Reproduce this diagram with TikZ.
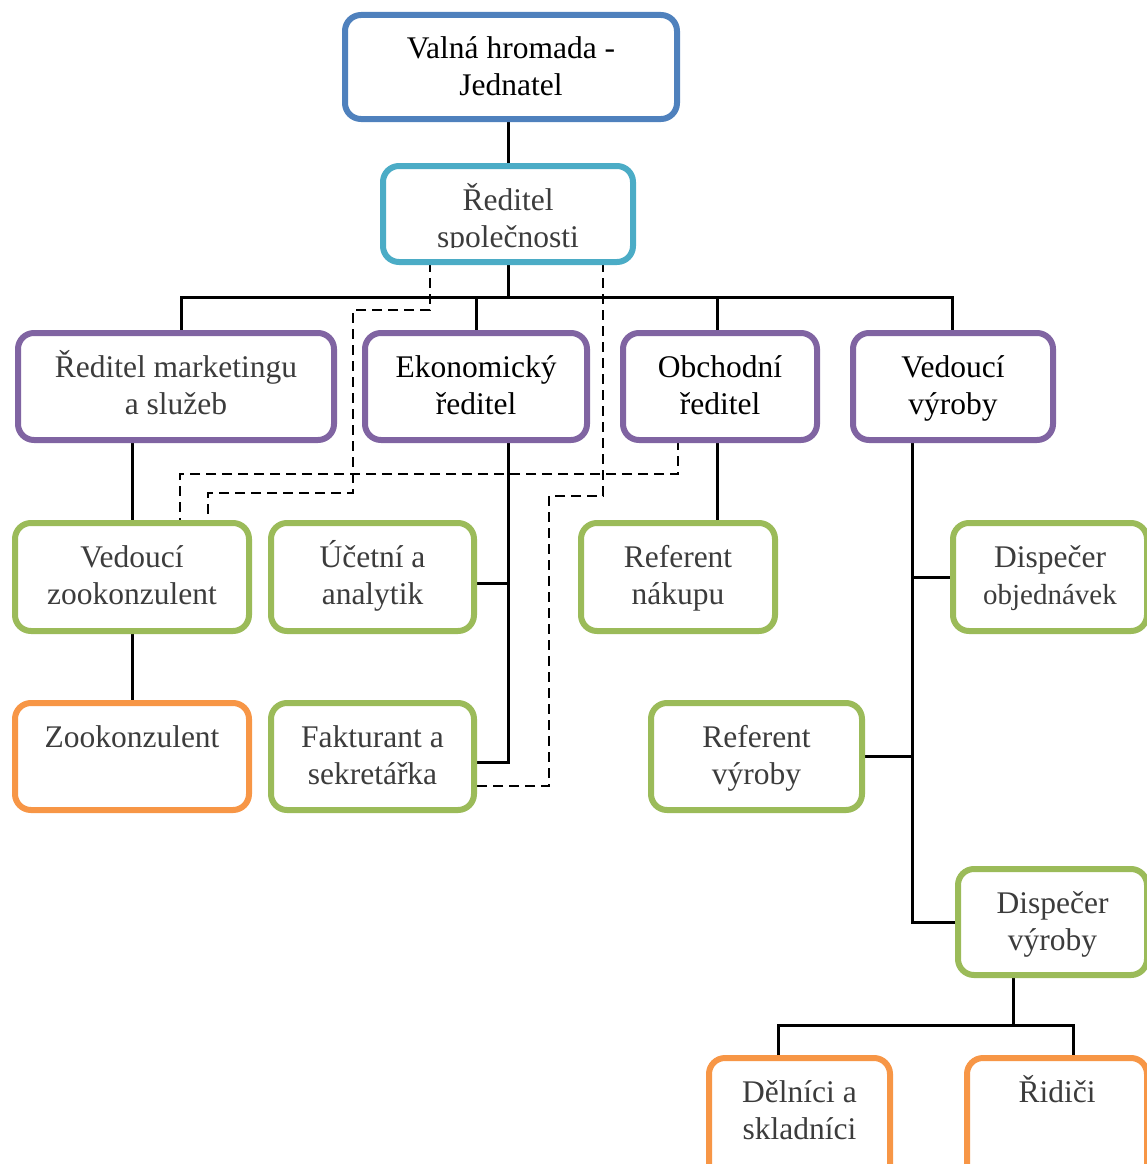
\documentclass[tikz,border=0pt]{standalone}
\usepackage{fontspec}
\setmainfont{Liberation Serif}
\usetikzlibrary{calc}

\definecolor{cBlue}{HTML}{4F81BD}
\definecolor{cAqua}{HTML}{4BACC6}
\definecolor{cPurple}{HTML}{8064A2}
\definecolor{cGreen}{HTML}{9BBB59}
\definecolor{cOrange}{HTML}{F79646}
\definecolor{cText}{HTML}{3C3C3C}

\tikzset{
  card/.style={draw, line width=6pt, rounded corners=16pt, fill=white,
    inner sep=0pt, outer sep=0pt, anchor=north west},
  cardtext/.style={inner sep=0pt, anchor=base},
  conn/.style={line width=3pt, line cap=rect},
  dsh/.style={line width=2.6pt, dash pattern=on 10pt off 6pt},
}

\pgfdeclarelayer{bg}
\pgfsetlayers{bg,main}

% \orgcard[text clip bottom]{name}{x1}{y1}{x2}{y2}{frame colour}{text colour}{lines}
\newcommand\orgcard[9][3000]{%
  \pgfmathsetmacro\cardw{#5-#3-6}%
  \pgfmathsetmacro\cardh{#6-#4-6}%
  \pgfmathsetmacro\boxw{#5-#3}%
  \node[card, draw=#7, minimum width=\cardw pt, minimum height=\cardh pt]
    (#2) at (#3+3,#4+3) {};
  \begin{scope}
    \clip (#3,#4) rectangle (#5,#1);
    \node[cardtext, text=#8] (#2-t) at ($(#2.north)+(0,44)$)
      {\parbox[t]{\boxw pt}{\centering\fontsize{31.5}{37}\selectfont #9}};
  \end{scope}
}

\begin{document}
\begin{tikzpicture}[x=1pt, y=-1pt]
\useasboundingbox (0,0) rectangle (1147,1164);

\coordinate (busL) at (181,297);
\coordinate (busR) at (952,297);

% ---------- boxes ----------
\orgcard{vh}{342}{12}{680}{122}{cBlue}{black}{Valná hromada -\\Jednatel}
\orgcard[247]{rs}{380}{163}{636}{265}{cAqua}{cText}{Ředitel\\společnosti}

\orgcard{rm}{15}{330}{337}{443}{cPurple}{cText}{Ředitel marketingu\\a služeb}
\orgcard{ek}{362}{330}{590}{443}{cPurple}{black}{Ekonomický\\ředitel}
\orgcard{ob}{620}{330}{820}{443}{cPurple}{black}{Obchodní\\ředitel}
\orgcard{vv}{850}{330}{1056}{443}{cPurple}{black}{Vedoucí\\výroby}

\orgcard{vz}{12}{520}{252}{634}{cGreen}{cText}{Vedoucí\\zookonzulent}
\orgcard{ua}{268}{520}{477}{634}{cGreen}{cText}{Účetní a\\analytik}
\orgcard{rn}{578}{520}{778}{634}{cGreen}{cText}{Referent\\nákupu}
\orgcard{dob}{950}{520}{1150}{634}{cGreen}{cText}{Dispečer\\{\fontsize{29}{37}\selectfont objednávek}}

\orgcard{zk}{12}{700}{252}{813}{cOrange}{cText}{Zookonzulent}
\orgcard{fs}{268}{700}{477}{813}{cGreen}{cText}{Fakturant a\\sekretářka}
\orgcard{rv}{648}{700}{865}{813}{cGreen}{cText}{Referent\\výroby}

\orgcard{dv}{955}{866}{1150}{978}{cGreen}{cText}{Dispečer\\výroby}

\orgcard{dl}{706}{1055}{893}{1190}{cOrange}{cText}{Dělníci a\\skladníci}
\orgcard{ri}{964}{1055}{1150}{1190}{cOrange}{cText}{Řidiči}

% ---------- connectors, behind the boxes ----------
\begin{pgfonlayer}{bg}
% top of the hierarchy
\draw[conn] (rs.north |- vh.south) -- (rs.north);
\draw[conn] (rs.south) -- (rs.south |- busL);
\draw[conn] (busL |- rm.north) -- (busL) -- (busR) -- (busR |- vv.north);
\draw[conn] (ek.north) -- (ek.north |- busL);
\draw[conn] ([xshift=-3]ob.north) -- ([xshift=-3]ob.north |- busL);

% marketing branch
\draw[conn] (vz.north |- rm.south) -- (vz.north);
\draw[conn] (vz.south) -- (zk.north);

% economic branch
\coordinate (ekT) at ([xshift=32]ek.south);
\draw[conn] (ekT) -- (ekT |- 0,762) -- ([yshift=-5.5]fs.east);
\draw[conn] ([yshift=-6]ua.east) -- ++(34,0);

% sales branch
\draw[conn] ([xshift=-3]ob.south) -- ([xshift=-3]ob.south |- rn.north);

% production branch
\coordinate (vvT) at ([xshift=-41]vv.south);
\draw[conn] (vvT) |- (dv.west);
\draw[conn] (dob.west) -- (vvT |- dob.west);
\draw[conn] (rv.east) -- (vvT |- rv.east);
\draw[conn] ([xshift=-39]dv.south) -- ++(0,47.5);
\draw[conn] ([xshift=-21]dl.north) -- ++(0,-32.5) -| ([xshift=16.5]ri.north);

% dashed secondary links
\draw[dsh] ([xshift=-78]rs.south) |- (353,310) -- (353,493) -| ([xshift=76]vz.north);
\draw[dsh] ([xshift=-42]ob.south) |- (180,474) -| ([xshift=48]vz.north);
\draw[dsh] ([xshift=95]rs.south) |- (549,496) |- ([yshift=-29.5]fs.east);
\end{pgfonlayer}
\end{tikzpicture}
\end{document}
